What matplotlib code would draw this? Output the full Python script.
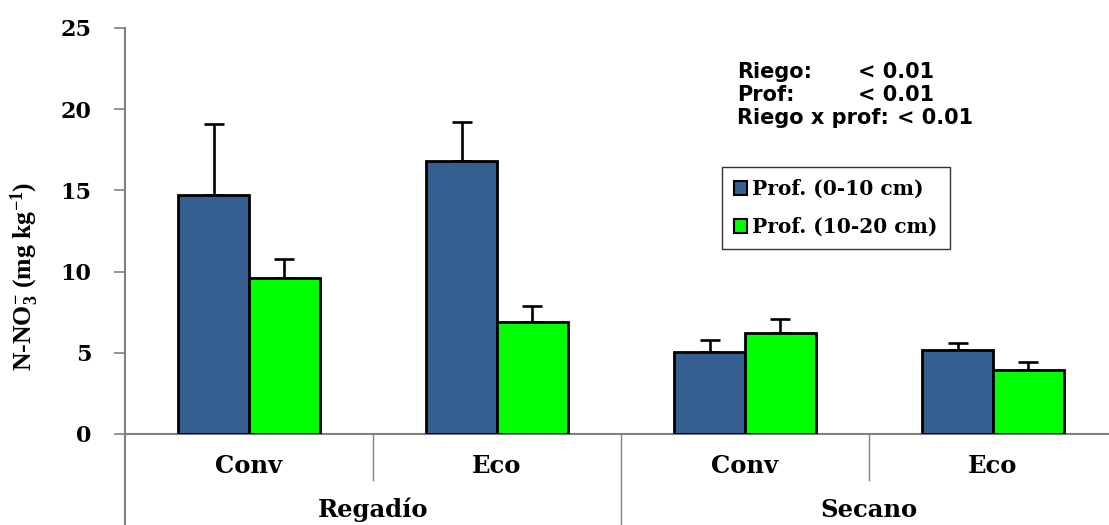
import matplotlib
matplotlib.use("Agg")
import matplotlib.pyplot as plt
from matplotlib.patches import Patch
from matplotlib.lines import Line2D
import numpy as np

# Data: nitrate content by management and depth
groups = ["Regadío", "Secano"]
systems = ["Conv", "Eco", "Conv", "Eco"]
series_labels = ["Prof. (0-10 cm)", "Prof. (10-20 cm)"]
shallow = [14.7, 16.8, 5.05, 5.15]
shallow_err = [4.4, 2.4, 0.75, 0.45]
deep = [9.6, 6.9, 6.2, 3.95]
deep_err = [1.2, 1.0, 0.9, 0.5]
yticks = [0, 5, 10, 15, 20, 25]
stats_names = ["Riego:", "Prof:", "Riego x prof:"]
stats_vals = ["< 0.01", "< 0.01", "< 0.01"]

plt.rcParams["mathtext.fontset"] = "custom"
plt.rcParams["mathtext.rm"] = "Liberation Serif:bold"
plt.rcParams["mathtext.it"] = "Liberation Serif:bold"
plt.rcParams["mathtext.bf"] = "Liberation Serif:bold"

blue = "#365F91"
green = "#00FF00"
gray = "#808080"
serif = "DejaVu Serif"
sans = "DejaVu Sans"

W, H = 1109, 525
fig = plt.figure(figsize=(W / 100, H / 100), dpi=100)
x0, x1, ytop, ybot = 125, 1117, 28, 434
ax = fig.add_axes([x0 / W, 1 - ybot / H, (x1 - x0) / W, (ybot - ytop) / H])

centers = np.arange(len(systems)) + 0.5
bw = 0.286
ax.bar(centers - bw / 2, shallow, bw, color=blue, edgecolor="black", linewidth=2.0, zorder=3)
ax.bar(centers + bw / 2, deep, bw, color=green, edgecolor="black", linewidth=2.0, zorder=3)
for xs, vals, errs in ((centers - bw / 2, shallow, shallow_err), (centers + bw / 2, deep, deep_err)):
    ax.errorbar(xs, vals, yerr=[np.zeros(len(errs)), errs], fmt="none", ecolor="black",
                elinewidth=1.9, capsize=7, capthick=1.9, zorder=2)

ax.set_xlim(0, 4)
ax.set_ylim(0, 25)
ax.set_yticks(yticks)
ax.set_yticklabels([str(t) for t in yticks], fontfamily=serif, fontweight="bold", fontsize=16)
ax.tick_params(axis="y", direction="out", length=8, width=1.2, color=gray, pad=16)
ax.set_xticks([])
for s in ("top", "right"):
    ax.spines[s].set_visible(False)
for s in ("left", "bottom"):
    ax.spines[s].set_color(gray)
    ax.spines[s].set_linewidth(1.5)

trans = ax.get_xaxis_transform()
# category dividers below the axis
ax.add_line(Line2D([0, 0], [0, -0.25], transform=trans, color=gray, lw=1.5, clip_on=False))
ax.add_line(Line2D([2, 2], [0, -0.25], transform=trans, color=gray, lw=1.0, clip_on=False))
for xd in (1, 3):
    ax.add_line(Line2D([xd, xd], [0, -0.113], transform=trans, color=gray, lw=1.0, clip_on=False))

for c, name in zip(centers, systems):
    ax.text(c, -0.079, name, transform=trans, ha="center", va="center",
            fontfamily=serif, fontweight="bold", fontsize=17.5)
for i, g in enumerate(groups):
    ax.text(2 * i + 1, -0.187, g, transform=trans, ha="center", va="center",
            fontfamily=serif, fontweight="bold", fontsize=17.5)

fig.text(25 / W, 1 - 276 / H, r"N-NO$_3^{\mathrm{-}}$ (mg kg$^{\mathrm{-1}}$)", rotation=90,
         ha="center", va="center", fontfamily="Liberation Serif", fontweight="bold", fontsize=18.5)

for i, (n, v) in enumerate(zip(stats_names, stats_vals)):
    yy = 1 - (72 + 23 * i) / H
    fig.text(737 / W, yy, n, ha="left", va="center", fontfamily=sans, fontweight="bold", fontsize=15)
    xv = 858 if i < 2 else 897
    fig.text(xv / W, yy, v, ha="left", va="center", fontfamily=sans, fontweight="bold", fontsize=15)

handles = [Patch(facecolor=blue, edgecolor="black", linewidth=1.5),
           Patch(facecolor=green, edgecolor="black", linewidth=1.5)]
leg = fig.legend(handles, series_labels, loc="upper left",
                 bbox_to_anchor=(722 / W, 1 - 167 / H),
                 prop={"family": serif, "weight": "bold", "size": 14.5},
                 handlelength=0.65, handleheight=0.65, handletextpad=0.25,
                 labelspacing=0.9, borderpad=0.6, borderaxespad=0, fancybox=False, frameon=True)
leg.get_frame().set_edgecolor("black")
leg.get_frame().set_linewidth(1.0)

fig.savefig("out.png", dpi=100)
